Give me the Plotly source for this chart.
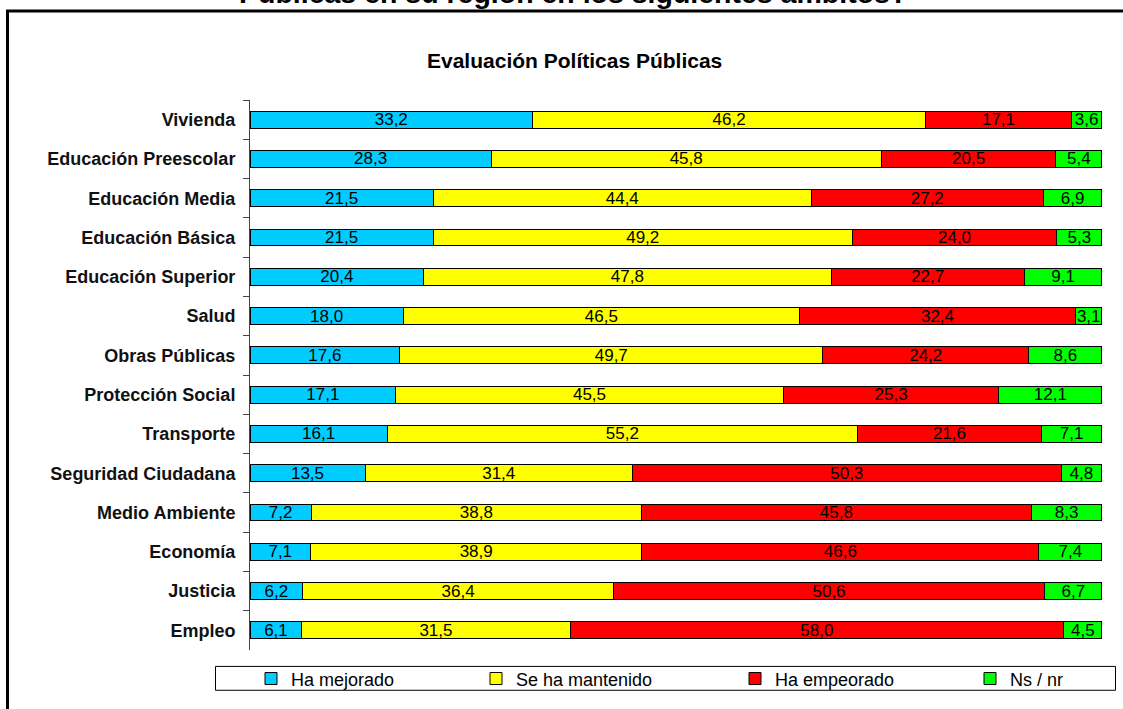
import plotly.graph_objects as go

categories = ["Vivienda", "Educación Preescolar", "Educación Media", "Educación Básica",
              "Educación Superior", "Salud", "Obras Públicas", "Protección Social",
              "Transporte", "Seguridad Ciudadana", "Medio Ambiente", "Economía",
              "Justicia", "Empleo"]
ha_mejorado = [33.2, 28.3, 21.5, 21.5, 20.4, 18.0, 17.6, 17.1, 16.1, 13.5, 7.2, 7.1, 6.2, 6.1]
se_mantenido = [46.2, 45.8, 44.4, 49.2, 47.8, 46.5, 49.7, 45.5, 55.2, 31.4, 38.8, 38.9, 36.4, 31.5]
ha_empeorado = [17.1, 20.5, 27.2, 24.0, 22.7, 32.4, 24.2, 25.3, 21.6, 50.3, 45.8, 46.6, 50.6, 58.0]
ns_nr = [3.6, 5.4, 6.9, 5.3, 9.1, 3.1, 8.6, 12.1, 7.1, 4.8, 8.3, 7.4, 6.7, 4.5]

series_names = ["Ha mejorado", "Se ha mantenido", "Ha empeorado", "Ns / nr"]
series_values = [ha_mejorado, se_mantenido, ha_empeorado, ns_nr]
series_colors = ["#00CCFF", "#FFFF00", "#FF0000", "#00FF00"]

W, H = 1123, 709
L, R, T, B = 250, 21, 100, 56
PW, PH = W - L - R, H - T - B

def px_x(p):
    return (p - L) / PW

def px_y(p):
    return (H - B - p) / PH

FONT = "Liberation Sans, Arial, sans-serif"
legend_ids = ["legend", "legend2", "legend3", "legend4"]
legend_symbol_px = [271, 496, 755, 990]

fig = go.Figure()
for name, vals, col, lid in zip(series_names, series_values, series_colors, legend_ids):
    fig.add_trace(go.Bar(
        y=categories, x=vals, name=name, orientation="h", legend=lid,
        marker=dict(color=col, line=dict(color="#000000", width=1)),
        text=[f"{v:.1f}".replace(".", ",") for v in vals],
        textposition="inside", insidetextanchor="middle", textangle=0,
        textfont=dict(family=FONT, size=17, color="#000000"),
        cliponaxis=False,
    ))

legend_layout = {}
for lid, sx in zip(legend_ids, legend_symbol_px):
    legend_layout[lid] = dict(
        orientation="h", x=px_x(sx - 20), xanchor="left", y=px_y(682), yanchor="middle",
        font=dict(family=FONT, size=18, color="#000000"),
        bgcolor="rgba(0,0,0,0)", borderwidth=0,
    )

fig.update_layout(
    width=W, height=H,
    margin=dict(l=L, r=R, t=T, b=B, pad=0),
    barmode="stack", barnorm="percent", bargap=0.57,
    paper_bgcolor="white", plot_bgcolor="white",
    uniformtext=dict(mode="show", minsize=17),
    font=dict(family=FONT, color="#000000"),
    xaxis=dict(visible=False, range=[0, 100.01], fixedrange=True),
    yaxis=dict(
        autorange="reversed", showgrid=False, zeroline=False,
        showline=True, linecolor="#444444", linewidth=1,
        ticks="outside", tickson="boundaries", ticklen=6, tickcolor="#444444",
        tickfont=dict(family=FONT, size=18, color="#111111", weight="bold"),
        ticklabelstandoff=10,
    ),
    showlegend=True,
    shapes=[
        dict(type="rect", xref="paper", yref="paper",
             x0=px_x(7.5), x1=px_x(1135), y0=px_y(720), y1=px_y(10.5),
             line=dict(color="#000000", width=3), fillcolor="rgba(0,0,0,0)", layer="below"),
        dict(type="rect", xref="paper", yref="paper",
             x0=px_x(215.5), x1=px_x(1115.5), y0=px_y(693.5), y1=px_y(669.5),
             line=dict(color="#000000", width=1), fillcolor="rgba(0,0,0,0)", layer="below"),
    ],
    annotations=[
        dict(text="<b>Evaluación Políticas Públicas</b>", xref="paper", yref="paper",
             x=px_x(574), y=px_y(60), xanchor="center", yanchor="middle", showarrow=False,
             font=dict(family=FONT, size=21, color="#000000")),
        dict(text="<b>Públicas en su región en los siguientes ámbitos?</b>", xref="paper", yref="paper",
             x=px_x(573), y=px_y(-8), xanchor="center", yanchor="middle", showarrow=False,
             font=dict(family=FONT, size=28.5, color="#000000")),
    ],
    **legend_layout,
)

fig.write_html("out.html", config={"displayModeBar": False},
               post_script="document.body.style.margin='0';document.body.style.overflow='hidden';")
